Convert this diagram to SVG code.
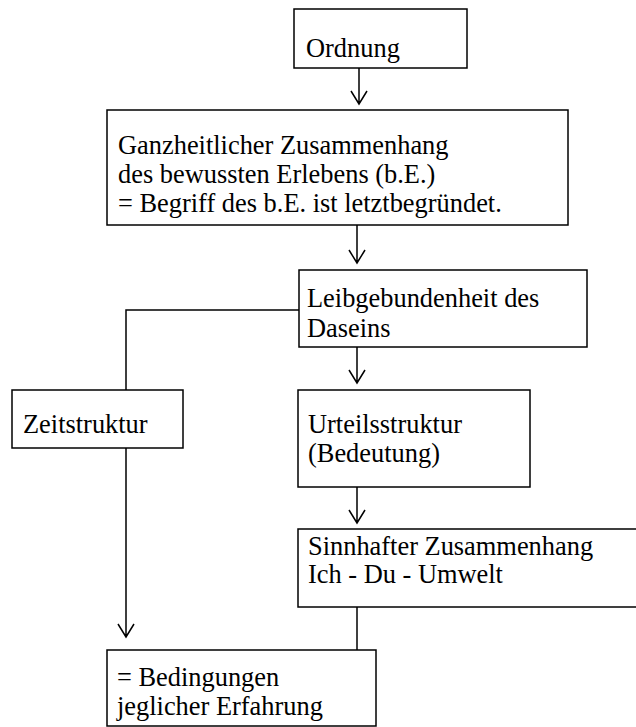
<svg xmlns="http://www.w3.org/2000/svg" width="636" height="727" viewBox="0 0 636 727">
<style>
.box{fill:#fff;stroke:#000;stroke-width:1.5}
.t{font-family:"Liberation Serif","Times New Roman",serif;font-size:26.4px;fill:#000}
.c{fill:none;stroke:#000;stroke-width:1.5}
</style>
<rect width="636" height="727" fill="#fff"/>
<g id="connectors">
<path class="c" d="M359 68V104M351 91L359 104L367 91"/>
<path class="c" d="M357 225V263M349 250L357 263L365 250"/>
<path class="c" d="M357 347V383M349 370L357 383L365 370"/>
<path class="c" d="M357 487V523M349 510L357 523L365 510"/>
<path class="c" d="M299 310H126V390"/>
<path class="c" d="M126 448V637M118 624L126 637L134 624"/>
<path class="c" d="M357 607V650"/>
</g>
<g id="ordnung">
<rect class="box" x="294" y="9" width="173" height="59"/>
<text class="t" x="306" y="57">Ordnung</text>
</g>
<g id="ganzheit">
<rect class="box" x="107" y="110" width="461" height="115"/>
<text class="t" x="118" y="154">Ganzheitlicher Zusammenhang</text>
<text class="t" x="118" y="183">des bewussten Erlebens (b.E.)</text>
<text class="t" x="118" y="212">= Begriff des b.E. ist letztbegründet.</text>
</g>
<g id="leib">
<rect class="box" x="299" y="270" width="288" height="77"/>
<text class="t" x="307" y="307">Leibgebundenheit des</text>
<text class="t" x="307" y="337">Daseins</text>
</g>
<g id="zeit">
<rect class="box" x="12" y="390" width="171" height="58"/>
<text class="t" x="23" y="433">Zeitstruktur</text>
</g>
<g id="urteil">
<rect class="box" x="298" y="390" width="232" height="97"/>
<text class="t" x="308" y="433">Urteilsstruktur</text>
<text class="t" x="308" y="462">(Bedeutung)</text>
</g>
<g id="sinn">
<rect class="box" x="298" y="529" width="350" height="78"/>
<text class="t" x="308" y="555">Sinnhafter Zusammenhang</text>
<text class="t" x="308" y="583">Ich - Du - Umwelt</text>
</g>
<g id="bedingungen">
<rect class="box" x="107" y="650" width="269" height="76"/>
<text class="t" x="117" y="686">= Bedingungen</text>
<text class="t" x="117" y="715">jeglicher Erfahrung</text>
</g>
</svg>
